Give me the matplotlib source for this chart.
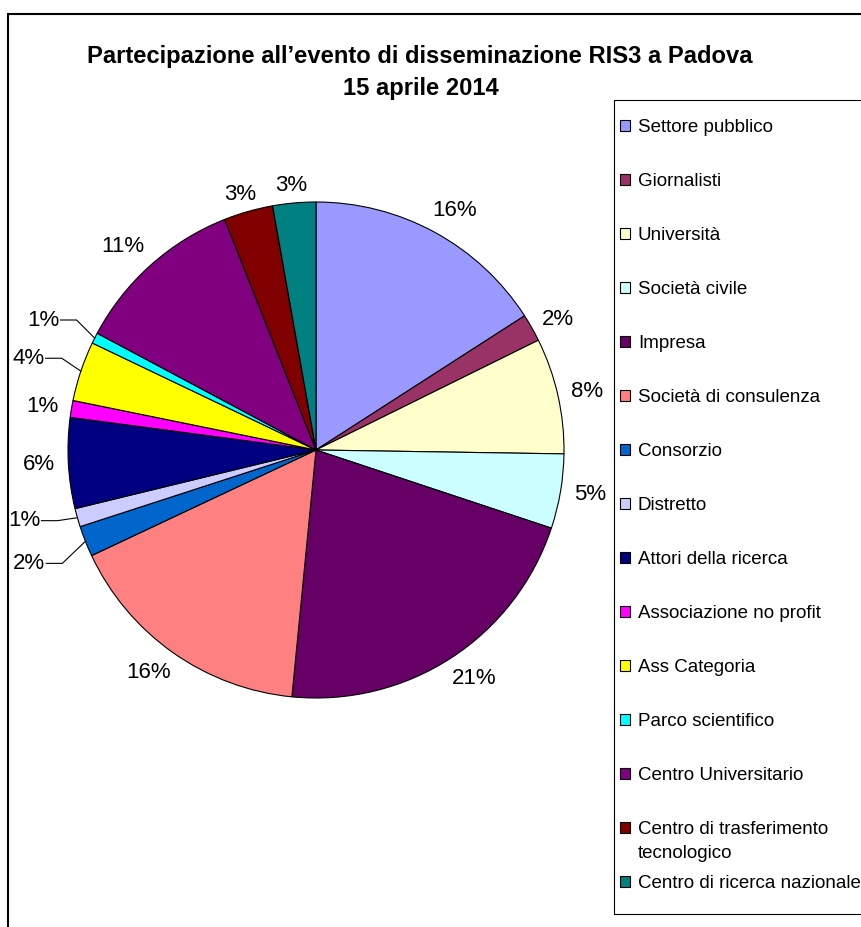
import matplotlib
matplotlib.use("Agg")
import matplotlib.pyplot as plt
from matplotlib.patches import Patch, Rectangle
import numpy as np

plt.rcParams['font.family'] = ['Liberation Sans', 'DejaVu Sans']

categories = ["Settore pubblico", "Giornalisti", "Università", "Società civile",
              "Impresa", "Società di consulenza", "Consorzio", "Distretto",
              "Attori della ricerca", "Associazione no profit", "Ass Categoria",
              "Parco scientifico", "Centro Universitario",
              "Centro di trasferimento\ntecnologico", "Centro di ricerca nazionale"]
values = [15.9, 1.8, 7.55, 4.85, 21.45, 16.45, 2.0, 1.2, 5.9, 1.1, 3.9, 0.7, 11.2, 3.2, 2.8]
colors = ["#9999FF", "#993366", "#FFFFCC", "#CCFFFF", "#660066", "#FF8080",
          "#0066CC", "#CCCCFF", "#000080", "#FF00FF", "#FFFF00", "#00FFFF",
          "#800080", "#800000", "#008080"]
# leader-line elbow offsets (data units) for the small slices with connector lines
leader_offsets = {6: (-0.093, -0.089), 7: (-0.08, -0.012),
                  10: (-0.077, 0.052), 11: (-0.073, 0.073)}

W, H = 861, 927
fig = plt.figure(figsize=(W / 100, H / 100), dpi=100)

# outer chart border
fig.patches.append(Rectangle((8 / W, -0.05), 1.2, 1 - 14 / H + 0.05,
                             transform=fig.transFigure, fill=False,
                             edgecolor="black", linewidth=1.5))

# title
fig.text(420 / W, 1 - 56 / H, "Partecipazione all’evento di disseminazione RIS3 a Padova",
         ha="center", va="center", fontsize=17.1, fontweight="bold")
fig.text(421 / W, 1 - 88 / H, "15 aprile 2014",
         ha="center", va="center", fontsize=17.1, fontweight="bold")

# pie
cx, cy, R = 316, 450, 248
ax = fig.add_axes([(cx - R) / W, (H - cy - R) / H, 2 * R / W, 2 * R / H])
wedges, _ = ax.pie(values, colors=colors, startangle=90, counterclock=False,
                   radius=1.0, wedgeprops=dict(edgecolor="black", linewidth=0.8))
ax.set_xlim(-1, 1)
ax.set_ylim(-1, 1)
ax.axis("off")

total = sum(values)
for i, (w, v) in enumerate(zip(wedges, values)):
    t = np.deg2rad((w.theta1 + w.theta2) / 2)
    c, s = np.cos(t), np.sin(t)
    lab = f"{v / total * 100:.0f}%"
    if i in leader_offsets:
        ox, oy = leader_offsets[i]
        p0 = (c, s)
        p1 = (c + ox, s + oy)
        p2 = (p1[0] - 0.065, p1[1])
        ax.plot([p0[0], p1[0], p2[0]], [p0[1], p1[1], p2[1]], color="black",
                linewidth=0.8, clip_on=False)
        ax.text(p2[0] - 0.004, p2[1], lab, ha="right", va="center", fontsize=16,
                clip_on=False)
    else:
        rx = 1.17 if v > 10 else 1.12
        ry = (1.15 if v > 10 else 1.12) - 0.05
        ax.text(rx * c, ry * s, lab, ha="center", va="center", fontsize=16,
                clip_on=False)

# legend box
fig.patches.append(Rectangle((614 / W, 1 - 914 / H), 0.4, (914 - 100) / H,
                             transform=fig.transFigure, fill=False,
                             edgecolor="black", linewidth=0.8))
handles = [Patch(facecolor=col, edgecolor="black", linewidth=0.8) for col in colors]
first_lines = [c.split("\n")[0] for c in categories]
leg = fig.legend(handles, first_lines, loc="upper left",
                 bbox_to_anchor=(620 / W, 1 - 119 / H), frameon=False,
                 fontsize=13.5, labelspacing=1.975, handlelength=0.55,
                 handleheight=0.55, handletextpad=0.4, borderpad=0,
                 borderaxespad=0)

# continuation lines of wrapped legend labels (placed under their first line)
fig.canvas.draw()
for txt, full in zip(leg.get_texts(), categories):
    parts = full.split("\n")
    if len(parts) > 1:
        bb = txt.get_window_extent()
        for k, extra in enumerate(parts[1:], start=1):
            fig.text(bb.x0 / W, (bb.y0 - 24 * k) / H, extra, ha="left",
                     va="bottom", fontsize=13.5)

fig.savefig("out.png", dpi=100)
